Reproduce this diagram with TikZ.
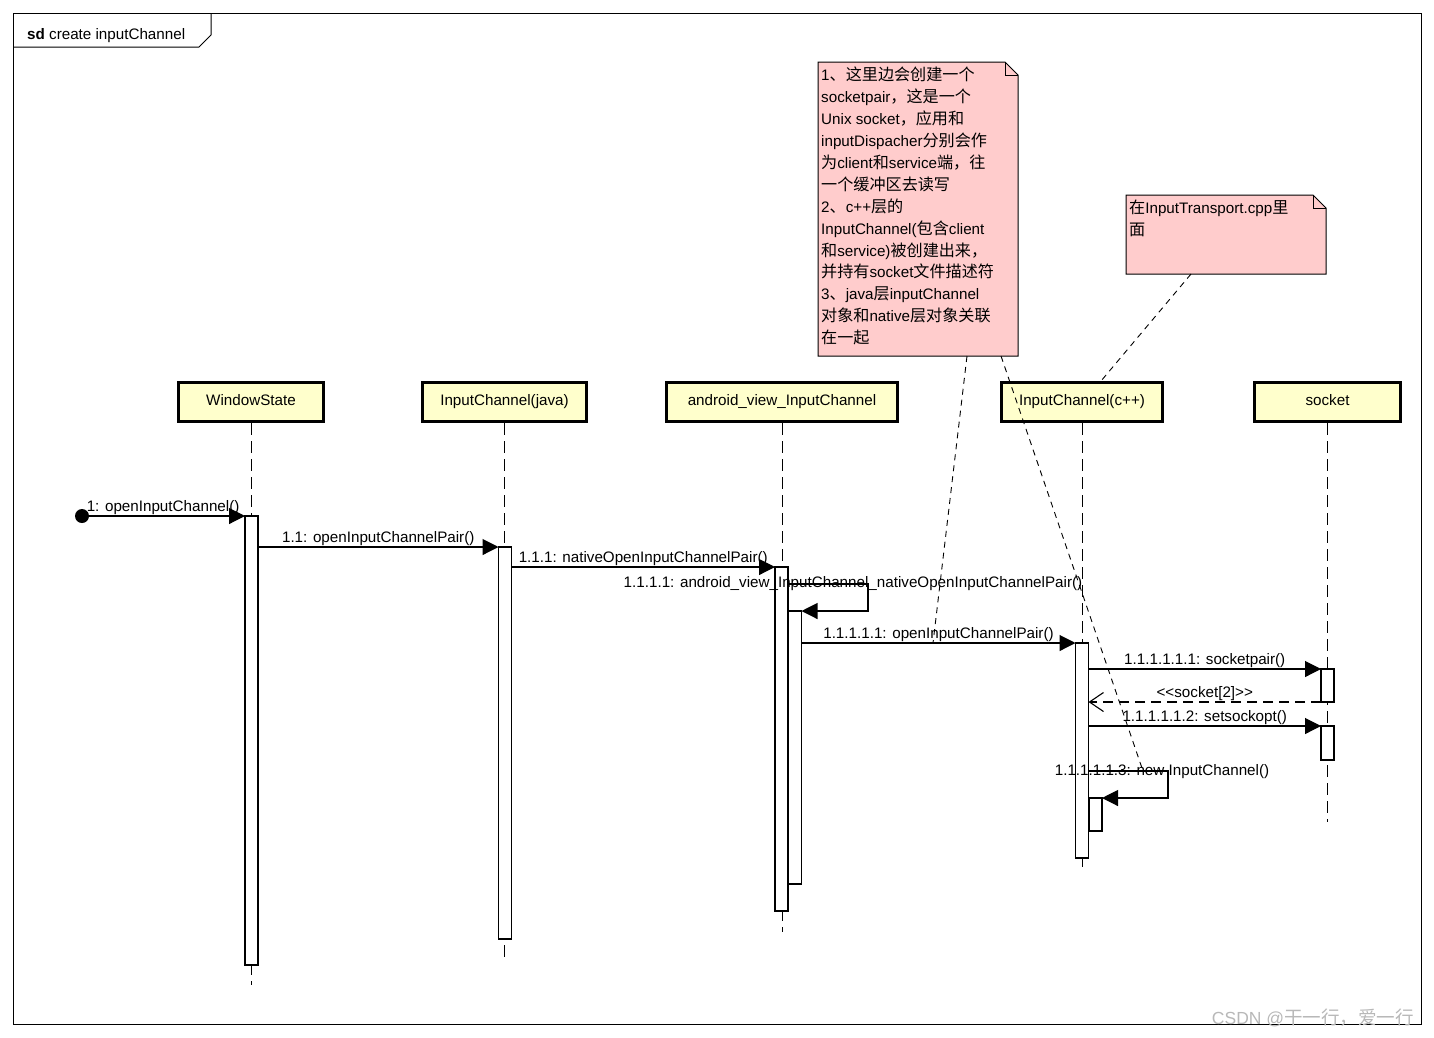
\documentclass[tikz,border=0pt]{standalone}
\usepackage{fontspec}
\setmainfont{Liberation Sans}
\newfontfamily\cjk[Scale=1.06]{Noto Sans CJK SC}
\newcommand{\zh}[1]{{\cjk #1}}
\usepackage{tikz}
\usetikzlibrary{arrows,arrows.meta,calc,positioning}

\definecolor{headyellow}{RGB}{255,255,204}
\definecolor{notepink}{RGB}{255,204,204}

\begin{document}
\begin{tikzpicture}[x=1pt,y=-1pt,font=\fontsize{15.2}{17}\selectfont]
	\tikzstyle{head} = [draw, rectangle, line width=3pt, fill=headyellow, minimum height=39pt, inner sep=0pt, text height=11pt, text depth=3.5pt]
	\tikzstyle{bar} = [draw, rectangle, fill=white, line width=1.2pt, minimum width=13pt, inner sep=0pt, outer sep=0pt, anchor=north]
	\tikzstyle{life} = [line width=1pt, dash pattern=on 12pt off 6pt]
	\tikzstyle{call} = [line width=1.1pt, -{Triangle[length=16pt,width=16pt]}]
	\tikzstyle{reply} = [line width=1.1pt, dash pattern=on 10pt off 6pt, -{Straight Barb[length=14pt,width=19pt]}]
	\tikzstyle{lbl} = [anchor=base, inner sep=0pt]
	\tikzstyle{msglbl} = [lbl, midway, yshift=4.5pt]
	\tikzstyle{notebox} = [rectangle, inner sep=0pt, outer sep=0pt, anchor=north west]
	\tikzstyle{notetext} = [align=left, inner sep=0pt, font=\fontsize{15.2}{21.9}\selectfont]
	\tikzstyle{noteline} = [line width=0.9pt, dash pattern=on 6pt off 5pt]

	\useasboundingbox (0,0) rectangle (1434,1037);

	% frame and title
	\node [draw, notebox, line width=1pt, minimum width=1408pt, minimum height=1011pt] (frame) at (13,13) {};
	\draw [line width=1pt] (13,47) -- (199,47) -- (211,35) -- (211,13);
	\node [lbl, anchor=base west] (title) at (27,39) {\textbf{sd} create inputChannel};

	% notes
	\node [notebox, minimum width=200pt, minimum height=294pt] (note1) at (818,62) {};
	\filldraw [fill=notepink, line width=1pt] (note1.north west) -- ([xshift=-13pt]note1.north east) -- ([yshift=-13pt]note1.north east) -- (note1.south east) -- (note1.south west) -- cycle;
	\draw [line width=1pt] ([xshift=-13pt]note1.north east) |- ([yshift=-13pt]note1.north east);
	\node [notetext, below right=5pt and 3pt of note1.north west] (note1text) {%
		1\zh{、这里边会创建一个}\\
		socketpair\zh{，这是一个}\\
		Unix socket\zh{，应用和}\\
		inputDispacher\zh{分别会作}\\
		\zh{为}client\zh{和}service\zh{端，往}\\
		\zh{一个缓冲区去读写}\\
		2\zh{、}c++\zh{层的}\\
		InputChannel(\zh{包含}client\\
		\zh{和}service)\zh{被创建出来，}\\
		\zh{并持有}socket\zh{文件描述符}\\
		3\zh{、}java\zh{层}inputChannel\\
		\zh{对象和}native\zh{层对象关联}\\
		\zh{在一起}};

	\node [notebox, minimum width=200pt, minimum height=79pt] (note2) at (1126,195) {};
	\filldraw [fill=notepink, line width=1pt] (note2.north west) -- ([xshift=-13pt]note2.north east) -- ([yshift=-13pt]note2.north east) -- (note2.south east) -- (note2.south west) -- cycle;
	\draw [line width=1pt] ([xshift=-13pt]note2.north east) |- ([yshift=-13pt]note2.north east);
	\node [notetext, below right=5pt and 3pt of note2.north west] (note2text) {%
		\zh{在}InputTransport.cpp\zh{里}\\
		\zh{面}};

	% lifeline heads
	\node [head, minimum width=145pt] (ws) at (251,402) {WindowState};
	\node [head, minimum width=164pt] (jv) at (504.5,402) {InputChannel(java)};
	\node [head, minimum width=231pt] (av) at (782,402) {android\_view\_InputChannel};
	\node [head, minimum width=161pt] (cc) at (1082,402) {InputChannel(c++)};
	\node [head, minimum width=146pt] (sk) at (1327.5,402) {socket};

	\foreach \n/\y in {ws/985,jv/958,av/932,cc/870,sk/822}
		\draw [life] (\n.south) -- (\n.south |- 0,\y);

	% activations
	\node [bar, minimum height=449pt] (wsbar) at (251.5,516) {};
	\node [bar, minimum height=392pt] (jvbar) at (505,547) {};
	\node [bar, minimum height=344pt] (avbar) at (781.5,567) {};
	\node [bar, minimum height=273pt] (avbar2) at (795,611) {};
	\node [bar, minimum height=215pt] (ccbar) at (1082,643) {};
	\node [bar, minimum height=33pt] (ccbar2) at (1095.5,798) {};
	\node [bar, minimum height=33pt] (skbar1) at (1327.5,669) {};
	\node [bar, minimum height=34pt] (skbar2) at (1327.5,726) {};

	\coordinate (loop1) at (868,584);
	\coordinate (loop2) at (1168,771);
	\coordinate (hook1) at (933,643);
	\coordinate (hook2) at (1143,771);

	% messages
	\node [circle, fill, inner sep=0pt, minimum size=14pt] (found) at (82,516) {};
	\draw [call] (found) -- (wsbar.north west) node[msglbl, xshift=-4pt]{1: openInputChannel()};
	\draw [call] (wsbar.east |- jvbar.north) -- (jvbar.north west) node[msglbl]{1.1: openInputChannelPair()};
	\draw [call] (jvbar.east |- avbar.north) -- (avbar.north west) node[msglbl]{1.1.1: nativeOpenInputChannelPair()};
	\draw [call] (avbar.east |- loop1) -- (loop1) |- (avbar2.north east);
	\node [lbl] (selflbl1) at (853,587) {1.1.1.1: android\_view\_InputChannel\_nativeOpenInputChannelPair()};
	\draw [call] (avbar2.east |- ccbar.north) -- (ccbar.north west) node[msglbl]{1.1.1.1.1: openInputChannelPair()};
	\draw [call] (ccbar.east |- skbar1.north) -- (skbar1.north west) node[msglbl]{1.1.1.1.1.1: socketpair()};
	\draw [reply] (skbar1.south west) -- (ccbar.east |- skbar1.south) node[msglbl]{<\kern0pt<socket[2]>\kern0pt>};
	\draw [call] (ccbar.east |- skbar2.north) -- (skbar2.north west) node[msglbl]{1.1.1.1.1.2: setsockopt()};
	\draw [call] (ccbar.east |- loop2) -- (loop2) |- (ccbar2.north east);
	\node [lbl] (selflbl2) at (1162,775) {1.1.1.1.1.3: new InputChannel()};

	% note anchors
	\draw [noteline] ([xshift=-51pt]note1.south east) -- (hook1);
	\draw [noteline] ([xshift=-17pt]note1.south east) -- (hook2);
	\draw [noteline] ([xshift=65pt]note2.south west) -- ([xshift=19pt]cc.north);

	\node [lbl, text=black!28, font=\fontsize{17.5}{20}\selectfont] (mark) at (1313,1024) {CSDN @\zh{干一行，爱一行}};
\end{tikzpicture}
\end{document}
